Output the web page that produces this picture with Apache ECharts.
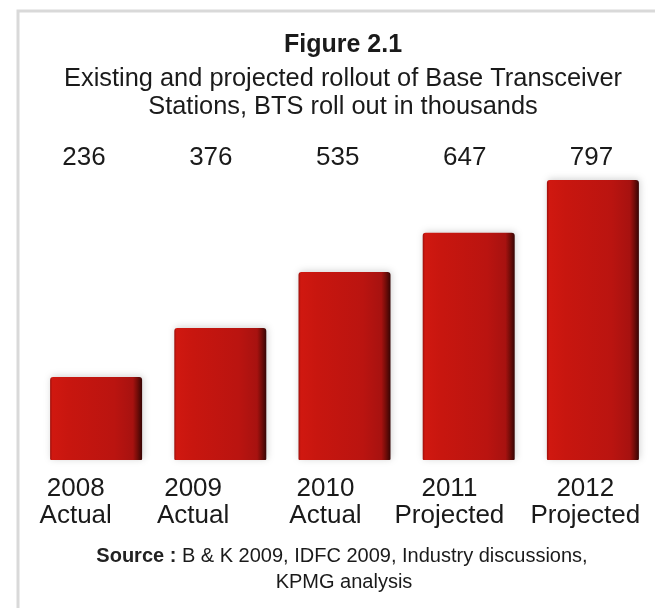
<!DOCTYPE html>
<html>
<head>
<meta charset="utf-8">
<script src="https://cdn.jsdelivr.net/npm/echarts@6/dist/echarts.min.js"></script>
<style>
html,body{margin:0;padding:0;background:#fff;}
#chart{width:655px;height:608px;}
</style>
</head>
<body>
<div id="chart"></div>
<script>
var years = ['2008', '2009', '2010', '2011', '2012'];
var statuses = ['Actual', 'Actual', 'Actual', 'Projected', 'Projected'];
var values = [236, 376, 535, 647, 797];
var valueLabels = ['236', '376', '535', '647', '797'];

var categories = years.map(function (y, i) { return y + '\n' + statuses[i]; });
var FONT = '"Liberation Sans", Arial, Helvetica, sans-serif';
var TXT = '#1a1a1a';

var chart = echarts.init(document.getElementById('chart'), null, { renderer: 'canvas' });

var barColor = new echarts.graphic.LinearGradient(0, 0, 1, 0, [
  { offset: 0, color: '#9c0f0b' },
  { offset: 0.025, color: '#d01810' },
  { offset: 0.2, color: '#c8160f' },
  { offset: 0.7, color: '#ba1410' },
  { offset: 0.9, color: '#a71210' },
  { offset: 0.945, color: '#780d09' },
  { offset: 1, color: '#360504' }
]);

function hiddenY(gi) {
  return { type: 'value', gridIndex: gi, min: 0, max: 800, show: false, splitLine: { show: false } };
}

// small per-label horizontal nudges (px) so each caption sits as in the reference
var labelPad = [[0, 0, 0, 10], [0, 10, 0, 0], [0, 0, 0, 0], [0, 7, 0, 0], [0, 0, 0, 10]];
var rich = {};
labelPad.forEach(function (p, i) {
  rich['c' + i] = { fontFamily: FONT, fontSize: 26, lineHeight: 27, color: TXT, padding: p };
});

chart.setOption({
  animation: false,
  backgroundColor: '#ffffff',
  textStyle: { fontFamily: FONT },
  graphic: [{
    type: 'rect',
    shape: { x: 18, y: 11, width: 800, height: 800 },
    style: { fill: 'none', stroke: '#d9d9d9', lineWidth: 3 },
    silent: true,
    z: -10
  }, {
    type: 'text',
    x: 343, y: 45,
    style: { text: 'Figure 2.1', textAlign: 'center', textVerticalAlign: 'middle',
      font: 'bold 25px ' + FONT, fill: TXT }
  }, {
    type: 'text',
    x: 343, y: 79,
    style: { text: 'Existing and projected rollout of Base Transceiver', textAlign: 'center', textVerticalAlign: 'middle',
      font: '25.4px ' + FONT, fill: TXT }
  }, {
    type: 'text',
    x: 343, y: 107,
    style: { text: 'Stations, BTS roll out in thousands', textAlign: 'center', textVerticalAlign: 'middle',
      font: '25.4px ' + FONT, fill: TXT }
  }, {
    type: 'text',
    x: 342, y: 556,
    style: {
      text: '{b|Source :} B & K 2009, IDFC 2009, Industry discussions,', textAlign: 'center', textVerticalAlign: 'middle',
      font: '20px ' + FONT, fill: TXT,
      rich: { b: { fontFamily: FONT, fontSize: 20, fontWeight: 'bold', fill: '#222' } }
    }
  }, {
    type: 'text',
    x: 344, y: 582,
    style: { text: 'KPMG analysis', textAlign: 'center', textVerticalAlign: 'middle',
      font: '20px ' + FONT, fill: TXT }
  }],
  grid: [
    { left: 34, width: 627, top: 179, bottom: 148, containLabel: false },
    { left: 20.5, width: 640, top: 179, bottom: 148, containLabel: false },
    { left: 7, width: 637, top: 179, bottom: 148, containLabel: false }
  ],
  xAxis: [{
    type: 'category',
    gridIndex: 0,
    data: categories,
    position: 'bottom',
    axisLine: { show: false },
    axisTick: { show: false },
    axisLabel: { show: false }
  }, {
    type: 'category',
    gridIndex: 1,
    data: valueLabels,
    position: 'top',
    axisLine: { show: false },
    axisTick: { show: false },
    axisLabel: {
      margin: 8,
      fontFamily: FONT,
      fontSize: 26,
      color: TXT,
      interval: 0
    }
  }, {
    type: 'category',
    gridIndex: 2,
    data: categories,
    position: 'bottom',
    axisLine: { show: false },
    axisTick: { show: false },
    axisLabel: {
      margin: 15,
      fontFamily: FONT,
      fontSize: 26,
      lineHeight: 27,
      color: TXT,
      interval: 0,
      formatter: function (v, i) {
        return v.split('\n').map(function (s) { return '{c' + i + '|' + s + '}'; }).join('\n');
      },
      rich: rich
    }
  }],
  yAxis: [hiddenY(0), hiddenY(1), hiddenY(2)],
  series: [{
    type: 'bar',
    xAxisIndex: 0,
    yAxisIndex: 0,
    data: values,
    barWidth: 92,
    itemStyle: {
      color: barColor,
      borderRadius: [3, 3, 1, 1],
      shadowBlur: 7,
      shadowColor: 'rgba(0,0,0,0.18)',
      shadowOffsetX: 1,
      shadowOffsetY: -1
    },
    label: { show: false }
  }]
});
</script>
</body>
</html>
